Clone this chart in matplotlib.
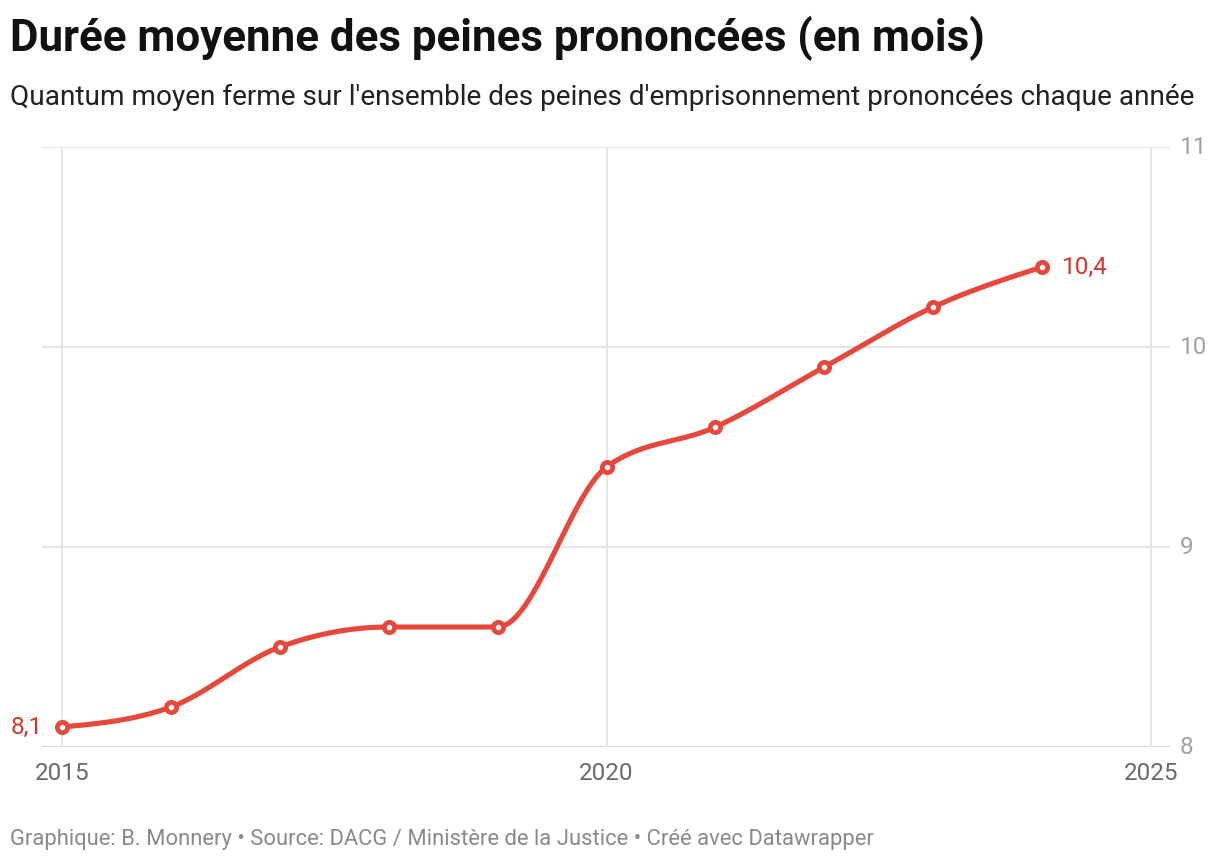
import numpy as np
import matplotlib.pyplot as plt

years = [2015, 2016, 2017, 2018, 2019, 2020, 2021, 2022, 2023, 2024]
durees = [8.1, 8.2, 8.5, 8.6, 8.6, 9.4, 9.6, 9.9, 10.2, 10.4]
x_ticks = [2015, 2020, 2025]
y_ticks = [8, 9, 10, 11]

RED = '#e8473b'
LABEL_RED = '#d8352c'
GRID = '#e3e3e3'

plt.rcParams['font.family'] = ['Roboto', 'DejaVu Sans']


def monotone_curve(x, y, n=40):
    # same shape as d3.curveMonotoneX, only for drawing the line
    x = np.asarray(x, float)
    y = np.asarray(y, float)
    h = np.diff(x)
    s = np.diff(y) / h
    t = np.zeros(len(x))
    for i in range(1, len(x) - 1):
        p = (s[i - 1] * h[i] + s[i] * h[i - 1]) / (h[i - 1] + h[i])
        t[i] = (np.sign(s[i - 1]) + np.sign(s[i])) * min(abs(s[i - 1]), abs(s[i]), 0.5 * abs(p))
    t[0] = (3 * s[0] - t[1]) / 2
    t[-1] = (3 * s[-1] - t[-2]) / 2
    xs, ys = [], []
    u = np.linspace(0, 1, n)
    for i in range(len(x) - 1):
        dx = h[i] / 3
        p0 = (x[i], y[i])
        p1 = (x[i] + dx, y[i] + dx * t[i])
        p2 = (x[i + 1] - dx, y[i + 1] - dx * t[i + 1])
        p3 = (x[i + 1], y[i + 1])
        b = [(1 - u) ** 3, 3 * (1 - u) ** 2 * u, 3 * (1 - u) * u ** 2, u ** 3]
        xs.extend(b[0] * p0[0] + b[1] * p1[0] + b[2] * p2[0] + b[3] * p3[0])
        ys.extend(b[0] * p0[1] + b[1] * p1[1] + b[2] * p2[1] + b[3] * p3[1])
    return np.array(xs), np.array(ys)


fig = plt.figure(figsize=(12.2, 8.64), dpi=100)
ax = fig.add_axes([42 / 1220, 1 - 747 / 864, 1128 / 1220, 600 / 864])
ax.set_xlim(2014.816, 2025.174)
ax.set_ylim(8, 11)

for yt in y_ticks[1:]:
    ax.axhline(yt, color=GRID, lw=1.3, zorder=1)
ax.axhline(8, color='#d9d9d9', lw=1.6, zorder=1)
for xt in x_ticks:
    ax.axvline(xt, color=GRID, lw=1.3, zorder=1)

cx, cy = monotone_curve(years, durees)
ax.plot(cx, cy, color=RED, lw=3.7, solid_capstyle='round', zorder=3)
ax.plot(years, durees, 'o', ms=7.4, mfc='white', mec=RED, mew=3.4, zorder=4)

ax.annotate('8,1', (years[0], durees[0]), xytext=(-14, 0), textcoords='offset points',
            ha='right', va='center', fontsize=17.5, color=LABEL_RED)
ax.annotate('10,4', (years[-1], durees[-1]), xytext=(14, 0), textcoords='offset points',
            ha='left', va='center', fontsize=17.5, color=LABEL_RED)

for s in ax.spines.values():
    s.set_visible(False)
ax.set_xticks(x_ticks)
ax.set_xticklabels([str(v) for v in x_ticks])
ax.set_yticks(y_ticks)
ax.set_yticklabels([str(v) for v in y_ticks])
ax.yaxis.tick_right()
ax.tick_params(axis='both', length=0, labelsize=17.5)
ax.tick_params(axis='x', pad=11, labelcolor='#6b6b6b')
ax.tick_params(axis='y', pad=7, labelcolor='#a3a3a3')
for lab in ax.get_yticklabels():
    lab.set_verticalalignment('center')

fig.text(10 / 1220, 1 - 38 / 864, 'Durée moyenne des peines prononcées (en mois)',
         fontsize=31.6, fontweight='bold', color='#111111', va='center', ha='left')
fig.text(10 / 1220, 1 - 97 / 864,
         "Quantum moyen ferme sur l'ensemble des peines d'emprisonnement prononcées chaque année",
         fontsize=20.2, color='#222222', va='center', ha='left')
fig.text(10 / 1220, 1 - 840 / 864,
         'Graphique: B. Monnery • Source: DACG / Ministère de la Justice • Créé avec Datawrapper',
         fontsize=15.8, color='#8a8a8a', va='center', ha='left')

fig.savefig('out.png', dpi=100, facecolor='white')
